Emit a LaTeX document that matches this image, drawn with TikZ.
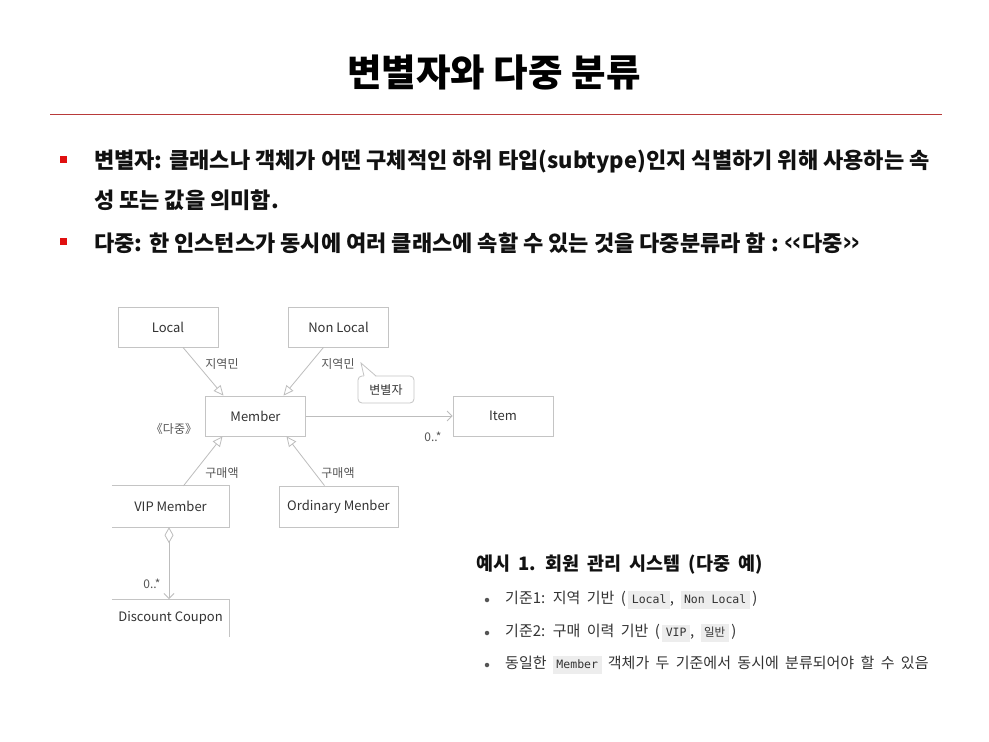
\documentclass[tikz,border=0pt]{standalone}
\usepackage{fontspec}
\usepackage{graphicx}
\setmainfont{Noto Sans CJK KR}
\newfontfamily\exfont{Noto Sans CJK KR}[WordSpace=1.9]
\newfontfamily\codefont{DejaVu Sans Mono}
\usetikzlibrary{arrows.meta}
\definecolor{redline}{HTML}{B83A3A}
\definecolor{bulletred}{HTML}{E01010}
\definecolor{boxgray}{HTML}{C4C4C4}
\definecolor{linegray}{HTML}{BDBDBD}
\definecolor{textgray}{HTML}{333333}
\definecolor{lblgray}{HTML}{555555}
\definecolor{codebg}{HTML}{EDEDED}
\definecolor{bodytext}{HTML}{111111}
\newcommand{\codebox}[1]{{\setlength{\fboxsep}{3.5pt}\colorbox{codebg}{\codefont\fontsize{11.5}{13}\selectfont\vphantom{Mp}#1}}}
\newcommand{\narrowlt}{\scalebox{0.5}[1]{<}\kern1.5pt}
\newcommand{\narrowgt}{\kern1.5pt\scalebox{0.5}[1]{>}}
\begin{document}
\begin{tikzpicture}[x=1pt,y=-1pt,
  cls/.style={draw=boxgray, line width=0.8pt, minimum width=100pt, minimum height=40pt, inner sep=0pt, font=\fontsize{13}{15}\selectfont, text=textgray},
  clsopen/.style={minimum width=117pt, minimum height=41pt, inner sep=0pt, font=\fontsize{13}{15}\selectfont, text=textgray},
  lbl/.style={font=\fontsize{12}{14}\selectfont, text=lblgray, inner sep=1pt},
  gen/.style={draw=linegray, line width=0.8pt, -{Triangle[open,length=10pt,width=9pt]}},
  assoc/.style={draw=linegray, line width=0.8pt, -{Straight Barb[length=5pt,width=10pt]}},
  bodyline/.style={anchor=west, inner sep=0pt, font=\bfseries\fontsize{22}{26}\selectfont, text=bodytext},
  exline/.style={anchor=west, inner sep=0pt, font=\exfont\fontsize{15}{18}\selectfont, text=textgray},
  dot/.style={circle, fill=lblgray, inner sep=0pt, minimum size=4.5pt}
]
\useasboundingbox (0,0) rectangle (989,742);
\fill[white] (0,0) rectangle (989,742);

% title
\node[font=\bfseries\fontsize{37.5}{44}\selectfont, text=black] (title) at (494,72) {변별자와 다중 분류};
\coordinate (ruleL) at (50,114);
\coordinate (ruleR) at (942,114);
\draw[redline, line width=0.9pt] (ruleL) -- (ruleR);

% bullets
\fill[bulletred] (60,156) rectangle (67,163);
\fill[bulletred] (60,238) rectangle (67,245);
\node[bodyline] (b1) at (94,162) {변별자: 클래스나 객체가 어떤 구체적인 하위 타입(subtype)인지 식별하기 위해 사용하는 속};
\node[bodyline] (b1b) at (94,200) {성 또는 값을 의미함.};
\node[bodyline] (b2) at (94,243) {다중: 한 인스턴스가 동시에 여러 클래스에 속할 수 있는 것을 다중분류라 함 : \narrowlt\narrowlt 다중\narrowgt\narrowgt};

% diagram classes
\node[cls] (local) at (168,327) {Local};
\node[cls] (nonlocal) at (338.5,327) {Non Local};
\node[cls] (member) at (255.5,416) {Member};
\node[cls] (item) at (503,416) {Item};
\node[clsopen] (vip) at (170.5,506.5) {VIP Member};
\draw[boxgray, line width=0.8pt] (vip.north west) -- (vip.north east) -- (vip.south east) -- (vip.south west);
\node[cls, minimum width=119pt, minimum height=41pt] (ordinary) at (338.5,506.5) {Ordinary Menber};
\node[clsopen, minimum height=38pt, anchor=north] (coupon) at (170.5,599) {Discount Coupon};
\draw[boxgray, line width=0.8pt] (coupon.north west) -- (coupon.north east) -- (coupon.south east);

% generalisations
\draw[gen] ([xshift=15]local.south) -- ([xshift=-32]member.north);
\draw[gen] ([xshift=-15]nonlocal.south) -- ([xshift=28]member.north);
\draw[gen] ([xshift=13]vip.north) -- ([xshift=-33]member.south);
\draw[gen] ([xshift=-14]ordinary.north) -- ([xshift=31]member.south);

% association
\draw[assoc] (member.east) -- (item.west);
\draw[draw=linegray, line width=0.8pt, {Diamond[open,length=16pt,width=9pt]}-{Straight Barb[length=5pt,width=10pt]}] ([xshift=-1.5]vip.south) -- ([xshift=-1.5]coupon.north);

% labels
\node[lbl] (l1) at (222,364) {지역민};
\node[lbl] (l2) at (338,364) {지역민};
\node[lbl] (l3) at (222,473) {구매액};
\node[lbl] (l4) at (338,473) {구매액};
\node[lbl] (multi) at (174,429) {《다중》};
\node[lbl, font=\fontsize{12}{14}\selectfont] (m1) at (433,437) {0..*};
\node[lbl, font=\fontsize{12}{14}\selectfont] (m2) at (152,584) {0..*};

% callout
\draw[boxgray, line width=0.8pt, fill=white, rounded corners=4pt] (358,376) rectangle (414,403);
\fill[white] (364,377) -- (361,363) -- (376,377) -- cycle;
\draw[boxgray, line width=0.8pt] (364,376) -- (361,363) -- (376,376);
\node[lbl, text=textgray] (disc) at (386,390) {변별자};

% example block
\node[anchor=west, inner sep=0pt, font=\exfont\bfseries\fontsize{18.5}{22}\selectfont, text=bodytext] (exh) at (476,565) {예시 1. 회원 관리 시스템 (다중 예)};
\node[dot] (d1) at (487,600) {};
\node[dot] (d2) at (487,633) {};
\node[dot] (d3) at (487,665) {};
\node[exline] (e1) at (505,600) {기준1: 지역 기반 (\,\codebox{Local}, \codebox{Non Local}\,)};
\node[exline] (e2) at (505,633) {기준2: 구매 이력 기반 (\,\codebox{VIP}, \codebox{\exfont 일반}\,)};
\node[exline] (e3) at (505,665) {동일한 \codebox{Member} 객체가 두 기준에서 동시에 분류되어야 할 수 있음};
\end{tikzpicture}
\end{document}
